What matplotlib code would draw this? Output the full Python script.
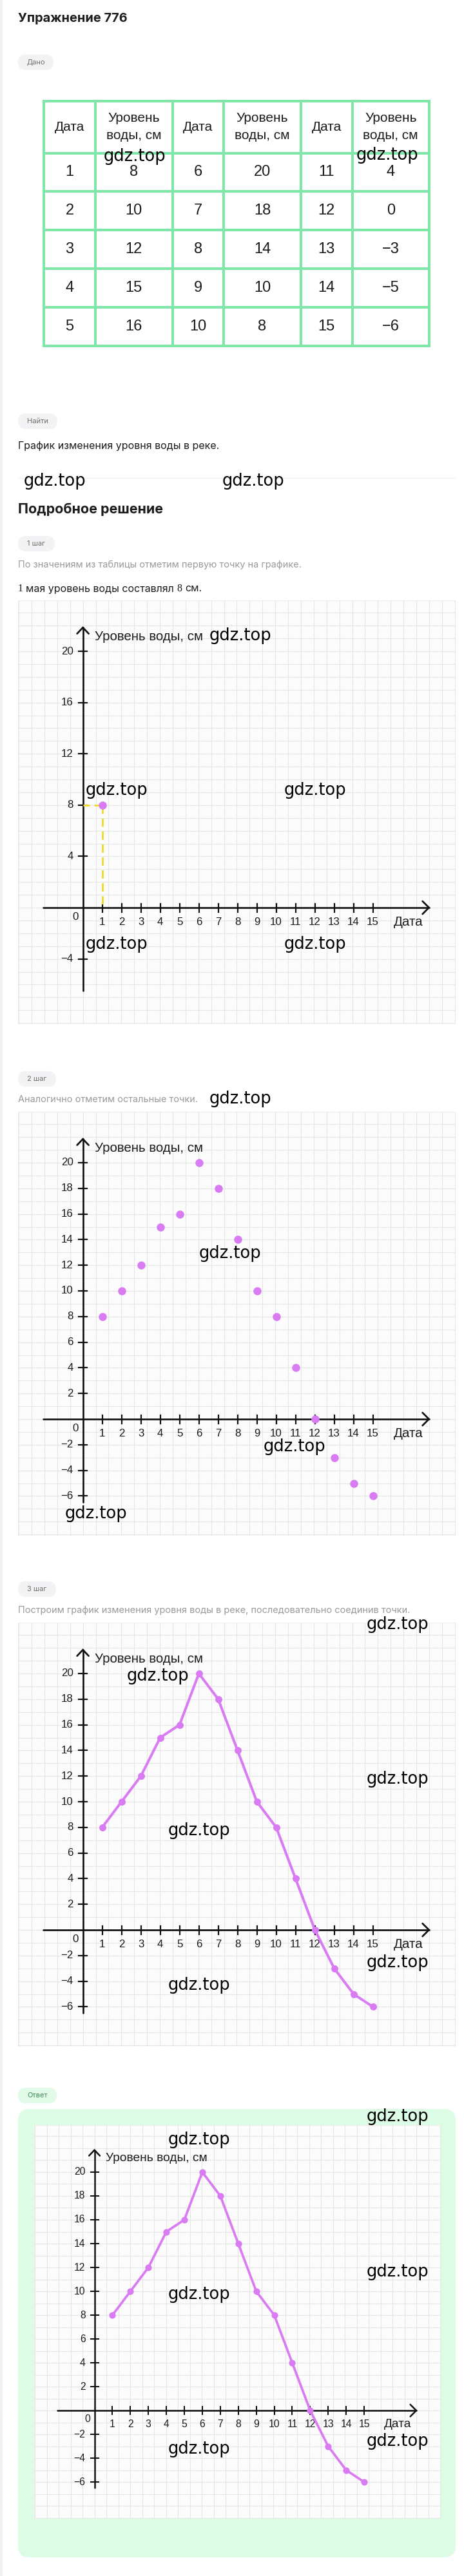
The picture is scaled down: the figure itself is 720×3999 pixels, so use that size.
import numpy as np
import matplotlib
matplotlib.use('Agg')
import matplotlib.pyplot as plt
from matplotlib.patches import Rectangle, FancyBboxPatch

# ---------------- data ----------------
dates = list(range(1, 16))
levels = [8, 10, 12, 15, 16, 20, 18, 14, 10, 8, 4, 0, -3, -5, -6]
table_header = ['Дата', 'Уровень\nводы, см']
y_ticks_step1 = [20, 16, 12, 8, 4, -4]
y_ticks_full = [20, 18, 16, 14, 12, 10, 8, 6, 4, 2, -2, -4, -6]
y_label = 'Уровень воды, см'
x_label = 'Дата'
watermark = 'gdz.top'

W_PX, H_PX = 720, 3999
PAGE_FONT = ['Inter', 'DejaVu Sans']
CHART_FONT = ['Liberation Sans', 'DejaVu Sans']
SERIF_FONT = ['Liberation Serif', 'DejaVu Serif']
VIOLET = '#d97cf3'
YELLOW = '#f0dc36'
INK = '#1c1c1c'
GRAY_TXT = '#9a9a9a'

plt.rcParams['font.family'] = PAGE_FONT

fig = plt.figure(figsize=(W_PX / 100, H_PX / 100), dpi=100)
fig.patch.set_facecolor('white')
bg = fig.add_axes([0, 0, 1, 1], zorder=0)
bg.set_xlim(0, W_PX)
bg.set_ylim(H_PX, 0)
bg.axis('off')
renderer = fig.canvas.get_renderer()

PT = 0.72  # px -> pt


def ptext(x, y, s, size_px, color=INK, weight='normal', ha='left', family=None):
    return bg.text(x, y, s, fontsize=size_px * PT, color=color, weight=weight, ha=ha,
                   va='center', family=family or PAGE_FONT)


def seq_text(x, y, pieces, size_px, color=INK):
    cur = x
    for s, fam, gap in pieces:
        t = bg.text(cur, y, s, fontsize=size_px * PT, color=color, ha='left',
                    va='center', family=fam)
        cur += t.get_window_extent(renderer=renderer).width + gap * size_px


def pill(x, yc, w, label, fc='#f3f3f5', tc='#6e6e6e'):
    h = 24
    bg.add_patch(FancyBboxPatch((x, yc - h / 2), w, h,
                                boxstyle='round,pad=0,rounding_size=12',
                                fc=fc, ec='none', zorder=1))
    bg.text(x + w / 2, yc, label, ha='center', va='center', fontsize=8,
            color=tc, zorder=2)


# left page strip
bg.add_patch(Rectangle((0, 0), 4, H_PX, fc='#f2f2f4', ec='none'))

# ---------------- header ----------------
ptext(28, 29, 'Упражнение 776', 20, weight='bold')
pill(28, 96.5, 55, 'Дано')

# ---------------- table ----------------
col_x = [68.3, 147.7, 267.5, 347.0, 467.0, 546.5, 666.0]
row_y = [156.7, 237.7, 296.7, 356.7, 416.7, 476.7, 536.7]
TBL = '#7ee6a6'
for xx in col_x:
    bg.plot([xx, xx], [row_y[0], row_y[-1]], color=TBL, lw=4 * PT,
            solid_capstyle='projecting', zorder=3)
for yy in row_y:
    bg.plot([col_x[0], col_x[-1]], [yy, yy], color=TBL, lw=4 * PT,
            solid_capstyle='projecting', zorder=3)
for c in range(6):
    cxm = (col_x[c] + col_x[c + 1]) / 2
    bg.text(cxm, (row_y[0] + row_y[1]) / 2, table_header[c % 2], ha='center',
            va='center', fontsize=15, family=CHART_FONT, color=INK,
            linespacing=1.55, zorder=4)
    g = c // 2
    for r in range(5):
        idx = g * 5 + r
        val = dates[idx] if c % 2 == 0 else levels[idx]
        txt = str(val).replace('-', '−')
        bg.text(cxm, (row_y[r + 1] + row_y[r + 2]) / 2, txt, ha='center',
                va='center', fontsize=17, family=CHART_FONT, color=INK, zorder=4)

# ---------------- find / solution text ----------------
pill(28, 654, 61, 'Найти')
ptext(28, 692, 'График изменения уровня воды в реке.', 16)
bg.plot([28, 707], [742, 742], color='#f1f1f1', lw=1, zorder=1)
ptext(28, 791, 'Подробное решение', 21.5, weight='bold')
pill(28, 844, 57, '1 шаг')
ptext(28, 877, 'По значениям из таблицы отметим первую точку на графике.', 14.5,
      color=GRAY_TXT)
seq_text(28, 914, [('1', SERIF_FONT, 0.28),
                   ('мая уровень воды составлял', PAGE_FONT, 0.28),
                   ('8', SERIF_FONT, 0.28),
                   ('см.', PAGE_FONT, 0.0)], 16)
pill(28, 1675, 59, '2 шаг')
ptext(28, 1707, 'Аналогично отметим остальные точки.', 14.5, color=GRAY_TXT)
pill(28, 2467, 59, '3 шаг')
ptext(28, 2500, 'Построим график изменения уровня воды в реке, последовательно соединив точки.',
      14.5, color=GRAY_TXT)
pill(28, 3253, 60, 'Ответ', fc='#e2fbe8', tc='#3d8c58')
bg.add_patch(FancyBboxPatch((28, 3274), 679, 696,
                            boxstyle='round,pad=0,rounding_size=18',
                            fc='#dcfce6', ec='none', zorder=1))


# ---------------- charts ----------------
def draw_chart(left, top, s, stage):
    Wp, Hp = 679 * s, 658 * s
    ax = fig.add_axes([left / W_PX, 1 - (top + Hp) / H_PX, Wp / W_PX, Hp / H_PX],
                      zorder=2)
    ux, uy = 30 * s, 19.9 * s
    ox, oy = 100.6 * s, 477 * s
    x0, x1 = -ox / ux, (Wp - ox) / ux
    y0, y1 = -(Hp - oy) / uy, oy / uy
    ax.set_xlim(x0, x1)
    ax.set_ylim(y0, y1)
    ax.axis('off')
    ax.add_patch(Rectangle((0, 0), 1, 1, transform=ax.transAxes, fc='#fcfcfc',
                           ec='#efefef', lw=1, zorder=0))
    cell = 19.9 / 30
    for k in range(int(np.floor(x0 / cell)), int(np.ceil(x1 / cell)) + 1):
        ax.axvline(k * cell, color='#e6e6e6', lw=0.8, zorder=1)
    for j in range(int(np.floor(y0)), int(np.ceil(y1)) + 1):
        ax.axhline(j, color='#e6e6e6', lw=0.8, zorder=1)

    alw = 2.7 * s * PT
    ak = dict(color='#111111', lw=alw, zorder=3, solid_capstyle='round',
              solid_joinstyle='miter')
    ytop, ybot = 21.85, -6.5
    xleft, xright = -2.07, 17.9
    ax.plot([0, 0], [ybot, ytop], **ak)
    ax.plot([-9 * s / ux, 0, 9 * s / ux],
            [ytop - 9.5 * s / uy, ytop, ytop - 9.5 * s / uy], **ak)
    ax.plot([xleft, xright], [0, 0], **ak)
    ax.plot([xright - 10 * s / ux, xright, xright - 10 * s / ux],
            [10 * s / uy, 0, -10 * s / uy], **ak)

    tl = 6.5 * s
    yt = y_ticks_step1 if stage == 1 else y_ticks_full
    fs_tick = 12.2 * s
    fs_lab = 14.8 * s
    for v in yt:
        ax.plot([-tl / ux, tl / ux], [v, v], color='#111111', lw=2.2 * s * PT, zorder=3)
        ax.text(-0.5, v, str(v).replace('-', '−'), ha='right', va='center',
                fontsize=fs_tick, family=CHART_FONT, color=INK, zorder=4)
    for d in dates:
        ax.plot([d, d], [-tl / uy, tl / uy], color='#111111', lw=2.2 * s * PT, zorder=3)
        ax.text(d, -1.15, str(d), ha='center', va='center', fontsize=fs_tick,
                family=CHART_FONT, color=INK, zorder=4)
    ax.text(-0.4, -0.75, '0', ha='center', va='center', fontsize=fs_tick,
            family=CHART_FONT, color=INK, zorder=4)
    ax.text(16.85, -1.15, x_label, ha='center', va='center', fontsize=fs_lab,
            family=CHART_FONT, color=INK, zorder=4)
    ax.text(0.61, 21.15, y_label, ha='left', va='center', fontsize=fs_lab,
            family=CHART_FONT, color=INK, zorder=4)

    ms = 12.5 * s * PT
    if stage == 1:
        d0, l0 = dates[0], levels[0]
        dk = dict(color=YELLOW, lw=3 * PT, dashes=(4.3, 2.4), zorder=4)
        ax.plot([d0, d0], [l0, 0], **dk)
        ax.plot([d0, 0], [l0, l0], **dk)
        ax.plot([d0], [l0], 'o', color=VIOLET, ms=ms, mew=0, zorder=5)
    elif stage == 2:
        ax.plot(dates, levels, 'o', color=VIOLET, ms=ms, mew=0, zorder=5)
    else:
        ax.plot(dates, levels, '-o', color=VIOLET, lw=4 * s * PT, ms=11 * s * PT,
                mew=0, zorder=5, solid_joinstyle='round')
    return ax


draw_chart(28, 932, 1.0, 1)
draw_chart(28, 1726, 1.0, 2)
draw_chart(28, 2519, 1.0, 3)
draw_chart(53, 3298.5, 0.93, 4)

# ---------------- watermarks ----------------
top_ax = fig.add_axes([0, 0, 1, 1], zorder=10)
top_ax.set_xlim(0, W_PX)
top_ax.set_ylim(H_PX, 0)
top_ax.axis('off')
top_ax.patch.set_alpha(0)
wm_pos = [(209, 243), (601, 241), (85, 747), (393, 747), (373, 987),
          (181, 1227), (489, 1227), (181, 1466), (489, 1466), (373, 1706),
          (357, 1946), (457, 2246), (149, 2350), (617, 2522), (245, 2602),
          (617, 2762), (309, 2842), (617, 3047), (309, 3082), (617, 3286),
          (309, 3322), (617, 3527), (309, 3562), (617, 3790), (309, 3802)]
for (wx, wy) in wm_pos:
    top_ax.text(wx, wy, watermark, ha='center', va='center', fontsize=18.5,
                family=['DejaVu Sans'], color='black')

fig.savefig('out.png', dpi=100, facecolor='white')
